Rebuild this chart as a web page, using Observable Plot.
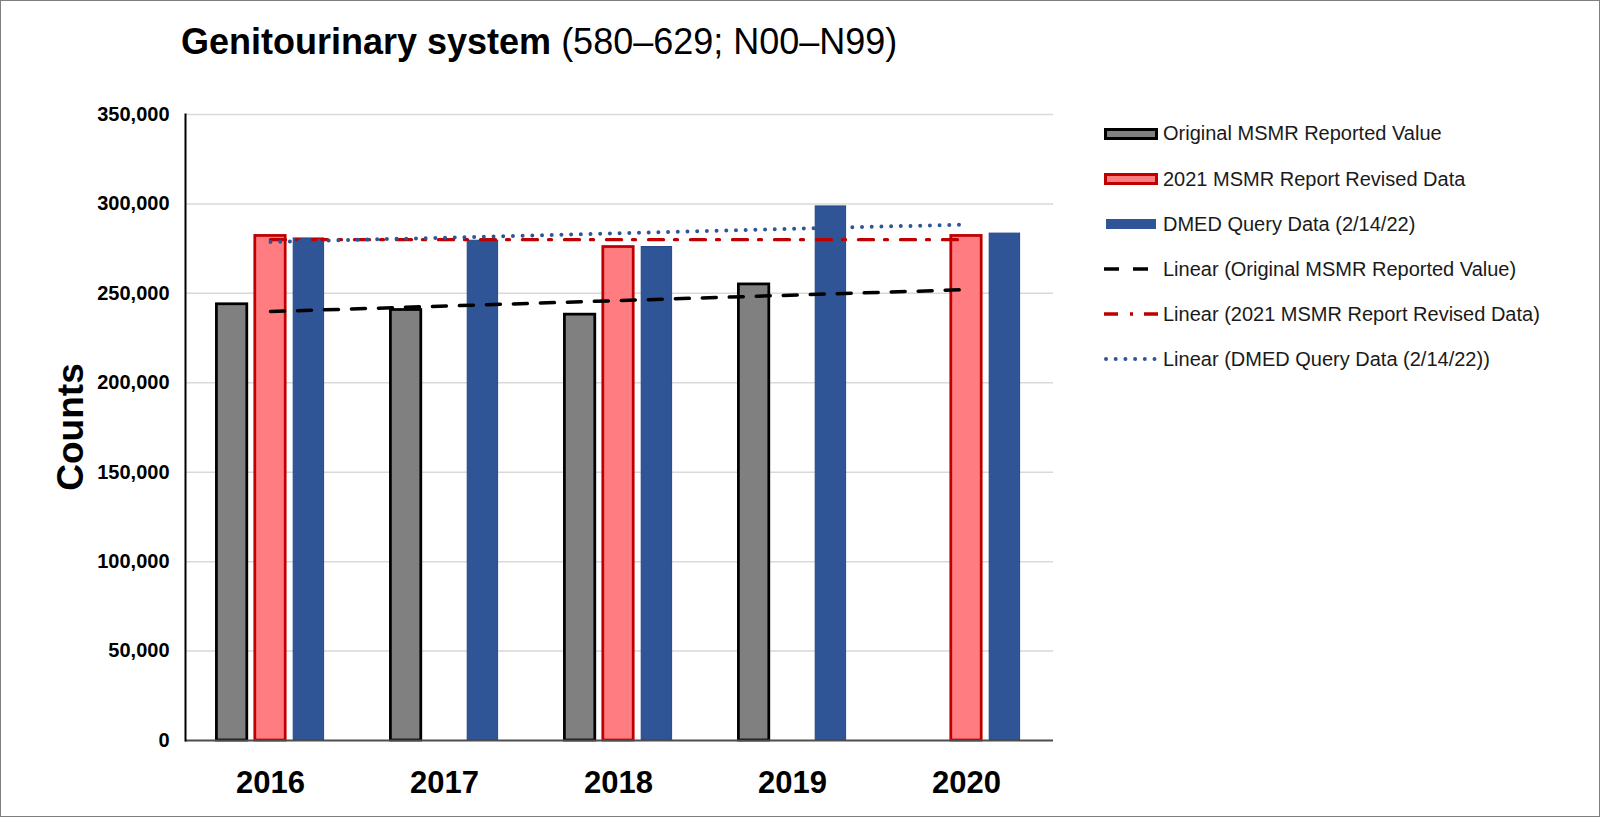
<!DOCTYPE html>
<html>
<head>
<meta charset="utf-8">
<script src="https://cdn.jsdelivr.net/npm/d3@7"></script>
<script src="https://cdn.jsdelivr.net/npm/@observablehq/plot@0.6"></script>
<style>
  html, body { margin: 0; padding: 0; background: #fff; }
  #wrap { position: relative; width: 1600px; height: 817px; box-sizing: border-box; border: 1px solid #7f7f7f; background: #fff; font-family: "Liberation Sans", Arial, sans-serif; overflow: hidden; }
  #title { position: absolute; left: 180px; top: 23px; font-size: 36px; line-height: 36px; color: #000; white-space: nowrap; }
  #title b { font-weight: bold; }
  #ylabel { position: absolute; left: 69px; top: 426px; transform: translate(-50%, -50%) rotate(-90deg); font-size: 37px; font-weight: bold; line-height: 1; white-space: nowrap; color: #000; }
  #chart { position: absolute; left: 0; top: 0; }
  #legend { position: absolute; left: 1103px; top: 0; }
  .lrow { position: absolute; left: 0; height: 24px; display: flex; align-items: center; white-space: nowrap; font-size: 20px; color: #1a1a1a; }
  .lrow svg { width: 54px; height: 16px; margin-right: 5px; flex: none; }
</style>
</head>
<body>
<div id="wrap">
  <div id="title"><b>Genitourinary system</b> (580–629; N00–N99)</div>
  <div id="ylabel">Counts</div>
  <div id="chart"></div>
  <div id="legend"></div>
</div>
<script>
// ---- data ----
const years = ["2016", "2017", "2018", "2019", "2020"];
const originalValues = [243900, 240700, 238100, 255000, null];
const revisedValues = [282100, null, 275900, null, 282100];
const dmedValues = [280700, 279400, 275900, 298600, 283400];
const yTicks = [0, 50000, 100000, 150000, 200000, 250000, 300000, 350000];
const seriesNames = [
  "Original MSMR Reported Value",
  "2021 MSMR Report Revised Data",
  "DMED Query Data (2/14/22)"
];
const trendNames = seriesNames.map(s => `Linear (${s})`);

// ---- helpers ----
function rows(values) {
  return years.map((year, i) => ({year, value: values[i]})).filter(d => d.value != null);
}
// least-squares linear trend over category index, drawn across all categories
function trend(values) {
  const pts = values.map((v, i) => [i, v]).filter(p => p[1] != null);
  const mx = d3.mean(pts, p => p[0]), my = d3.mean(pts, p => p[1]);
  const sxy = d3.sum(pts, p => (p[0] - mx) * (p[1] - my));
  const sxx = d3.sum(pts, p => (p[0] - mx) ** 2);
  const b = sxx ? sxy / sxx : 0, a = my - b * mx;
  const i0 = 0, i1 = years.length - 1;
  return [{year: years[i0], value: a + b * i0}, {year: years[i1], value: a + b * i1}];
}

const W = 1100, H = 817;
const inset = 71.8, off = 38.4;

const marks = [
  Plot.ruleY(yTicks.filter(t => t > 0), {stroke: "#d9d9d9", strokeOpacity: 1, strokeWidth: 1.5}),
  Plot.barY(rows(originalValues), {x: "year", y: "value", fill: "#808080", stroke: "#000", strokeWidth: 2.75, insetLeft: inset, insetRight: inset, dx: -off}),
  Plot.barY(rows(revisedValues), {x: "year", y: "value", fill: "#FF7C80", stroke: "#C00000", strokeWidth: 2.75, insetLeft: inset, insetRight: inset}),
  Plot.barY(rows(dmedValues), {x: "year", y: "value", fill: "#2F5597", stroke: "#24478a", strokeWidth: 1, insetLeft: inset, insetRight: inset, dx: off}),
  Plot.line(trend(originalValues), {x: "year", y: "value", stroke: "#000", strokeWidth: 3.5, strokeDasharray: "14,13"}),
  Plot.line(trend(revisedValues), {x: "year", y: "value", stroke: "#C00000", strokeWidth: 3.3, strokeDasharray: "15,11,3,13"}),
  Plot.line(trend(dmedValues), {x: "year", y: "value", stroke: "#2F5597", strokeWidth: 4, strokeDasharray: "0,9.7", strokeLinecap: "round"}),
  Plot.ruleY([0], {stroke: "#4d4d4d", strokeWidth: 2}),
  Plot.frame({anchor: "left", stroke: "#000", strokeWidth: 2}),
  Plot.axisX({tickSize: 0, tickPadding: 30, fontSize: 31, fontWeight: "bold", label: null}),
  Plot.axisY(yTicks, {tickSize: 0, tickPadding: 16, fontSize: 20, fontWeight: "bold", tickFormat: d3.format(","), label: null})
];

const chart = Plot.plot({
  width: W,
  height: H,
  marginLeft: 184,
  marginRight: 48,
  marginTop: 113,
  marginBottom: 78,
  style: {fontFamily: "'Liberation Sans', Arial, sans-serif", background: "transparent", color: "#000", overflow: "visible"},
  x: {type: "band", domain: years, padding: 0, range: [181, 1052.3], axis: null},
  y: {domain: [0, 350000], axis: null},
  marks
});
document.getElementById("chart").appendChild(chart);

// ---- legend ----
const legendRows = [
  {label: seriesNames[0], svg: '<rect x="1.5" y="2.5" width="51" height="9" fill="#808080" stroke="#000" stroke-width="3"/>'},
  {label: seriesNames[1], svg: '<rect x="1.5" y="2.5" width="51" height="9" fill="#FF7C80" stroke="#C00000" stroke-width="3"/>'},
  {label: seriesNames[2], svg: '<rect x="2" y="2" width="50" height="10" fill="#2F5597"/>'},
  {label: trendNames[0], svg: '<line x1="0" x2="54" y1="7" y2="7" stroke="#000" stroke-width="3.5" stroke-dasharray="15,14"/>'},
  {label: trendNames[1], svg: '<line x1="0" x2="54" y1="7" y2="7" stroke="#C00000" stroke-width="3.3" stroke-dasharray="14,12,3,11,14"/>'},
  {label: trendNames[2], svg: '<line x1="2" x2="54" y1="7" y2="7" stroke="#2F5597" stroke-width="4" stroke-linecap="round" stroke-dasharray="0,9.7"/>'}
];
const rowCenters = [132.7, 178.3, 223.3, 268.3, 313.3, 358.3];
const legend = document.getElementById("legend");
legendRows.forEach((r, i) => {
  const div = document.createElement("div");
  div.className = "lrow";
  div.style.top = (rowCenters[i] - 12) + "px";
  div.innerHTML = `<svg viewBox="0 0 54 14">${r.svg}</svg><span></span>`;
  div.querySelector("span").textContent = r.label;
  legend.appendChild(div);
});
</script>
</body>
</html>
